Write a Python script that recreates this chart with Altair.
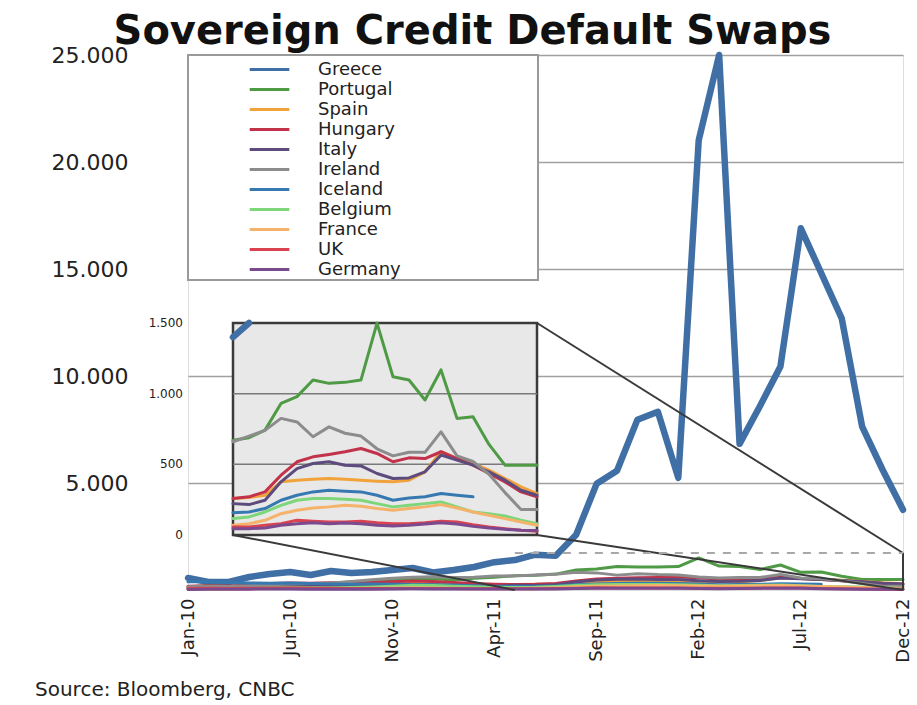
import altair as alt
import pandas as pd

# ---------------- data ----------------
MONTHS = ["Jan-10", "Feb-10", "Mar-10", "Apr-10", "May-10", "Jun-10", "Jul-10", "Aug-10", "Sep-10", "Oct-10", "Nov-10", "Dec-10",
          "Jan-11", "Feb-11", "Mar-11", "Apr-11", "May-11", "Jun-11", "Jul-11", "Aug-11", "Sep-11", "Oct-11", "Nov-11", "Dec-11",
          "Jan-12", "Feb-12", "Mar-12", "Apr-12", "May-12", "Jun-12", "Jul-12", "Aug-12", "Sep-12", "Oct-12", "Nov-12", "Dec-12"]
TICK_LABELS = ["Jan-10", "Jun-10", "Nov-10", "Apr-11", "Sep-11", "Feb-12", "Jul-12", "Dec-12"]

COUNTRIES = ["Greece", "Portugal", "Spain", "Hungary", "Italy", "Ireland",
             "Iceland", "Belgium", "France", "UK", "Germany"]
COLORS = ["#3f6fa5", "#4f9a45", "#f2a23a", "#c2324a", "#5c4b7c", "#8c8c8c",
          "#3579b0", "#7ed67a", "#f5b26b", "#d9434f", "#7b4a8e"]

GREECE = [560, 374, 374, 607, 748, 841, 701, 888, 794, 841, 935, 1028,
          820, 935, 1075, 1300, 1400, 1650, 1600, 2580, 4960, 5570, 7960, 8330,
          5240, 21020, 25000, 6830, 8600, 10440, 16900, 14800, 12690, 7630, 5620, 3750]
PORTUGAL = [150, 200, 160, 250, 300, 280, 280, 300, 380, 400, 450, 500,
            520, 470, 550, 600, 671, 688, 742, 931, 979, 1097, 1073, 1080,
            1097, 1499, 1120, 1097, 955, 1168, 825, 837, 641, 494, 494, 494]
SPAIN = [100, 110, 100, 150, 200, 240, 200, 210, 220, 230, 280, 300,
         280, 230, 220, 240, 258, 265, 281, 376, 388, 395, 400, 395,
         388, 381, 376, 388, 447, 589, 541, 506, 459, 400, 340, 293]
HUNGARY = [180, 200, 190, 220, 300, 330, 320, 340, 330, 350, 380, 420,
           400, 350, 300, 270, 258, 270, 305, 423, 518, 553, 570, 589,
           612, 577, 518, 546, 541, 589, 541, 494, 435, 376, 305, 270]
ITALY = [90, 110, 100, 130, 170, 200, 180, 190, 180, 200, 220, 240,
         230, 180, 160, 150, 222, 215, 246, 376, 470, 506, 518, 494,
         489, 435, 400, 404, 447, 565, 530, 494, 447, 388, 317, 281]
IRELAND = [150, 170, 160, 200, 250, 280, 300, 330, 400, 480, 550, 600,
           620, 580, 600, 650, 660, 700, 740, 825, 800, 695, 765, 720,
           700, 610, 560, 585, 585, 730, 560, 520, 430, 300, 180, 180]
ICELAND = [380, 400, 350, 330, 320, 330, 300, 280, 270, 280, 270, 260,
           250, 230, 200, 170, 158, 163, 187, 246, 281, 305, 317, 310,
           305, 281, 246, 262, 270, 293, 281, 270, None, None, None, None]
BELGIUM = [50, 60, 55, 70, 100, 110, 100, 110, 120, 140, 180, 220,
           210, 180, 150, 130, 116, 128, 163, 210, 246, 258, 258, 253,
           246, 222, 199, 210, 222, 234, 199, 163, 151, 135, 104, 80]
FRANCE = [30, 40, 35, 50, 70, 80, 70, 75, 70, 80, 90, 100,
          95, 80, 75, 70, 69, 80, 104, 151, 175, 191, 199, 210,
          203, 187, 175, 187, 199, 215, 191, 163, 139, 116, 92, 69]
UK = [70, 80, 75, 80, 90, 90, 85, 80, 70, 70, 70, 75,
      70, 65, 60, 55, 57, 57, 69, 80, 104, 97, 92, 92,
      97, 87, 80, 80, 87, 97, 92, 73, 57, 45, 33, 26]
GERMANY = [25, 35, 30, 40, 50, 45, 40, 40, 35, 40, 45, 55,
           50, 45, 42, 42, 45, 45, 50, 69, 80, 87, 80, 85,
           80, 69, 64, 69, 78, 87, 78, 61, 50, 40, 33, 31]

SERIES = [GREECE, PORTUGAL, SPAIN, HUNGARY, ITALY, IRELAND,
          ICELAND, BELGIUM, FRANCE, UK, GERMANY]

Y_TICKS = [5000, 10000, 15000, 20000, 25000]
INSET_START = 16          # May-11
INSET_END = 35            # Dec-12
INSET_MAX = 1500
INSET_TICKS = [0, 500, 1000, 1500]
INSET_TICK_LABELS = ["0", "500", "1.000", "1.500"]
INSET_GRID = [500, 1000]
ZOOM_TOP = 1730
SOURCE = "Source: Bloomberg, CNBC"
TITLE = "Sovereign Credit Default Swaps"

# ---------------- layout ----------------
W, H = 715, 535
Y_MAX = 25000
X_MAX = 35
FONT = "DejaVu Sans"
INSET_PX_X = [45, 349]
INSET_PX_Y = [480, 268]


def px_to_month(px):
    return px / W * X_MAX


def px_to_value(py):
    return (H - py) / H * Y_MAX


rows = []
for c, s in zip(COUNTRIES, SERIES):
    for m, v in enumerate(s):
        if v is not None:
            rows.append({"month": m, "label": MONTHS[m], "country": c, "value": v})
df = pd.DataFrame(rows)

inset_df = df[(df["month"] >= INSET_START) &
              ~((df["country"] == "Greece") & (df["month"] > INSET_START + 1))]

color = alt.Color(
    "country:N",
    scale=alt.Scale(domain=COUNTRIES, range=COLORS),
    legend=alt.Legend(
        title=None, orient="none", legendX=71, legendY=4,
        symbolType="M-2.2,0L2.2,0", symbolSize=324, symbolStrokeWidth=3,
        labelFontSize=18, labelFont=FONT, labelColor="#222222",
        labelOffset=38, rowPadding=0, padding=0,
    ),
)
stroke_w = alt.condition("datum.country == 'Greece'", alt.value(6.5), alt.value(3))

x_main = alt.Scale(domain=[0, X_MAX], nice=False)
y_main = alt.Scale(domain=[0, Y_MAX], nice=False)

tick_expr = "[" + ",".join("'%s'" % t for t in TICK_LABELS) + "][round(datum.value/5)]"

main_lines = alt.Chart(df).mark_line(strokeJoin="round", strokeCap="round").encode(
    x=alt.X("month:Q", scale=x_main,
            axis=alt.Axis(values=list(range(0, 36, 5)), labelExpr=tick_expr,
                          labelAngle=270, labelFontSize=18, labelFont=FONT,
                          labelColor="#222222", labelPadding=8,
                          grid=False, ticks=False, domain=False, title=None)),
    y=alt.Y("value:Q", scale=y_main,
            axis=alt.Axis(values=Y_TICKS,
                          labelExpr="replace(format(datum.value, ','), ',', '.')",
                          labelFontSize=22, labelFont=FONT, labelColor="#222222",
                          labelPadding=60, grid=True, gridColor="#a0a0a0",
                          gridWidth=1.5, ticks=False, domain=False, title=None)),
    color=color,
    strokeWidth=stroke_w,
)

legend_box = alt.Chart(pd.DataFrame({"a": [0]})).mark_rect(
    fill="white", stroke="#9a9a9a", strokeWidth=2
).encode(x=alt.value(0), x2=alt.value(350), y=alt.value(0), y2=alt.value(225))

ix0, ix1 = px_to_month(INSET_PX_X[0]), px_to_month(INSET_PX_X[1])
iyb, iyt = px_to_value(INSET_PX_Y[0]), px_to_value(INSET_PX_Y[1])
conn_df = pd.DataFrame({
    "x": [ix0, ix1, ix1, X_MAX],
    "x2": [INSET_START, X_MAX, X_MAX, X_MAX],
    "y": [iyb, iyb, iyt, ZOOM_TOP],
    "y2": [0, 0, ZOOM_TOP, 0],
})
connectors = alt.Chart(conn_df).mark_rule(color="#3a3a3a", strokeWidth=2).encode(
    x=alt.X("x:Q", scale=x_main), x2="x2", y=alt.Y("y:Q", scale=y_main), y2="y2"
)
dashed = alt.Chart(pd.DataFrame({"x": [INSET_START], "x2": [X_MAX], "y": [ZOOM_TOP]})).mark_rule(
    color="#a8a8a8", strokeWidth=2, strokeDash=[8, 8]
).encode(x=alt.X("x:Q", scale=x_main), x2="x2", y=alt.Y("y:Q", scale=y_main))

source = alt.Chart(pd.DataFrame({"t": [SOURCE]})).mark_text(
    align="left", baseline="middle", fontSize=20, font=FONT, color="#222222"
).encode(x=alt.value(-153), y=alt.value(635), text="t:N")

main_layer = alt.layer(legend_box, main_lines, connectors, dashed, source)

# ---------------- inset ----------------
ix = alt.Scale(domain=[INSET_START, INSET_END], range=INSET_PX_X, nice=False, zero=False)
iy = alt.Scale(domain=[0, INSET_MAX], range=INSET_PX_Y, nice=False, clamp=True)

inset_box = alt.Chart(pd.DataFrame({"x0": [INSET_START], "x1": [INSET_END],
                                    "y0": [0], "y1": [INSET_MAX]})).mark_rect(
    fill="#e8e8e8", stroke="#3a3a3a", strokeWidth=2.5
).encode(x=alt.X("x0:Q", scale=ix, axis=None), x2="x1",
         y=alt.Y("y0:Q", scale=iy, axis=None), y2="y1")

inset_grid = alt.Chart(pd.DataFrame({"v": INSET_GRID, "x0": INSET_START, "x1": INSET_END})).mark_rule(
    color="#7a7a7a", strokeWidth=1.5
).encode(x=alt.X("x0:Q", scale=ix, axis=None), x2="x1",
         y=alt.Y("v:Q", scale=iy, axis=None))

inset_lines = alt.Chart(inset_df).mark_line(strokeJoin="round", strokeCap="round").encode(
    x=alt.X("month:Q", scale=ix, axis=None),
    y=alt.Y("value:Q", scale=iy, axis=None),
    color=color,
    strokeWidth=stroke_w,
)

inset_labels = alt.Chart(pd.DataFrame({"v": INSET_TICKS, "lab": INSET_TICK_LABELS})).mark_text(
    align="right", baseline="middle", fontSize=12, font=FONT, color="#222222"
).encode(y=alt.Y("v:Q", scale=iy, axis=None), x=alt.value(-5), text="lab:N")

inset_layer = alt.layer(inset_box, inset_grid, inset_lines, inset_labels)

chart = alt.layer(main_layer, inset_layer).resolve_scale(
    x="independent", y="independent"
).properties(
    width=W, height=H,
    title=alt.TitleParams(TITLE, fontSize=40, font=FONT, fontWeight="bold",
                          anchor="middle", frame="group", dx=-73, dy=8, offset=0,
                          color="#111111"),
    autosize=alt.AutoSizeParams(type="none"),
    padding={"left": 188, "top": 55, "right": 14, "bottom": 115},
).configure_view(stroke=None).configure(background="white")

chart.save("out.html", embed_options={"renderer": "svg", "actions": False})
